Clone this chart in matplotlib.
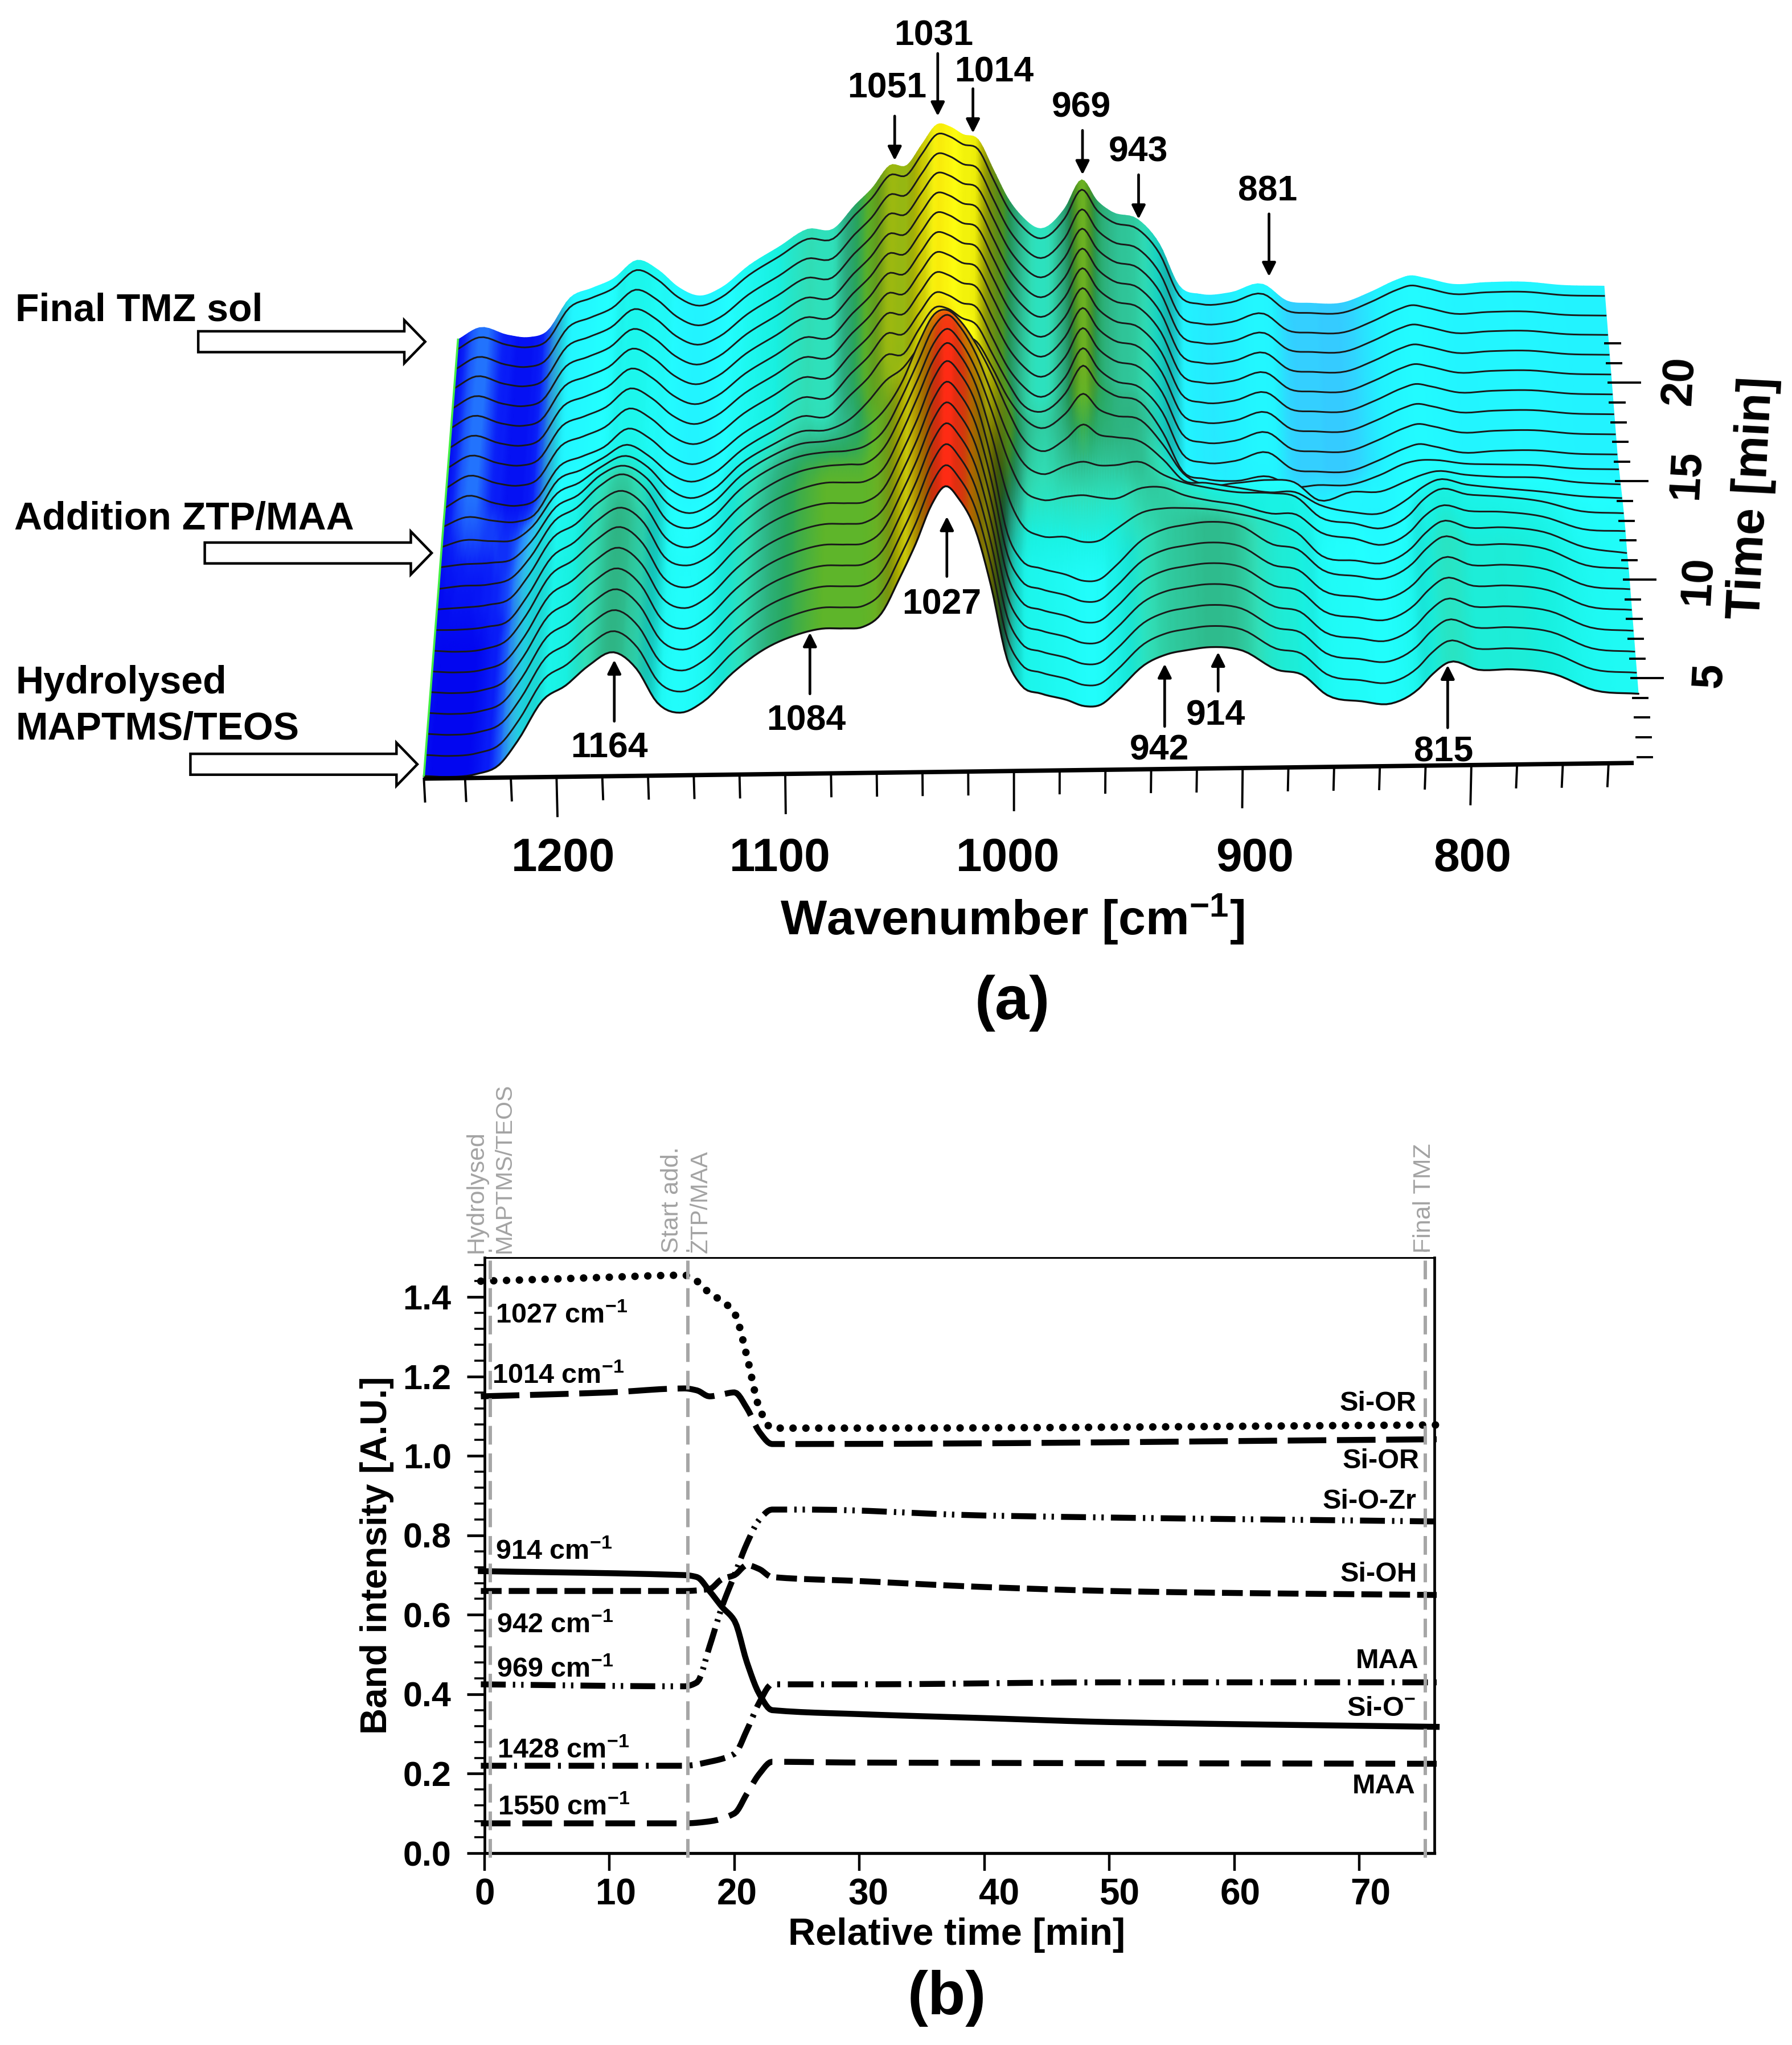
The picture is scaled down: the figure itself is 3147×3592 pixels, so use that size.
import matplotlib
matplotlib.use('Agg')
import matplotlib.pyplot as plt
import numpy as np
from matplotlib.colors import LinearSegmentedColormap
from matplotlib.patches import FancyArrow

plt.rcParams['font.family'] = ['Liberation Sans', 'DejaVu Sans']
plt.rcParams['font.weight'] = 'bold'
plt.rcParams['mathtext.fontset'] = 'custom'
plt.rcParams['mathtext.rm'] = 'Liberation Sans:bold'
plt.rcParams['mathtext.bf'] = 'Liberation Sans:bold'
plt.rcParams['mathtext.it'] = 'Liberation Sans:bold'

# ---- panel (a), spectra, heights in picture units above the row base
wavenumber = [1258,1248,1235,1225,1217,1206,1196,1186,1175,1165,1156,1146,1136,1123,1109,1096,1084,1074,1066,1058,1050,1043,1036,1030,1024,1017,1010,1003,997,988,977,969,962,955,943,933,924,914,900,885,874,863,848,835,823,817,810,797,782,764,746,727]

spec_early = [2,1,3,10,28,59,70,85,95,82,56,48,56,78,96,106,111,111,112,122,149,175,205,219,209,186,142,86,66,59,54,49,50,60,80,88,91,93,90,75,71,55,50,48,59,70,79,73,73,69,56,53]
spec_r7 = [2,2,4,9,27,57,68,84,94,82,56,49,56,78,96,106,111,111,112,122,149,176,204,217,207,184,145,100,78,68,67,63,64,72,85,88,88,87,83,76,68,50,46,44,55,66,75,70,70,66,54,49]
spec_r8 = [2,3,5,10,27,56,66,82,91,79,55,47,55,77,94,104,108,109,110,122,148,174,201,212,202,180,148,112,90,80,82,83,81,80,88,88,82,78,74,67,66,52,47,42,52,63,71,67,66,62,52,50]
spec_r9 = [2,4,5,10,25,53,63,79,88,76,53,46,53,75,91,100,103,104,108,120,146,172,198,207,197,176,146,115,95,84,90,93,90,90,92,82,76,72,68,67,64,48,43,39,49,60,68,64,62,58,50,48]
spec_r10 = [3,5,6,9,22,48,57,72,79,69,50,42,49,70,85,94,96,100,107,120,142,170,192,195,186,168,145,118,98,86,95,106,98,96,92,78,62,60,56,52,52,42,36,35,46,54,60,56,53,50,46,44]
spec_r11 = [3,8,7,8,18,43,51,63,71,62,46,38,44,64,78,88,89,97,110,126,136,152,168,170,160,155,135,112,98,88,99,114,102,97,93,74,52,43,44,46,44,30,36,36,44,48,51,48,46,45,41,39]
spec_r12 = [3,10,7,6,11,38,45,54,64,55,42,35,41,59,73,84,84,100,113,130,131,150,166,165,158,152,130,108,92,85,99,120,105,97,91,68,38,32,30,33,25,26,26,33,42,44,44,41,40,39,36,35]
spec_late = [2,11,5,3,7,33,40,47,61,53,40,33,39,56,70,83,83,101,114,131,131,147,162,160,154,150,127,104,91,81,96,118,102,93,87,68,36,29,30,36,23,21,21,29,38,41,39,34,35,35,32,31]

row_times = [0.7,1.77,2.84,3.9,4.96,6.01,7.06,8.11,9.16,10.2,11.23,12.26,13.29,14.31,15.33,16.35,17.36,18.37,19.37,20.38,21.36,22.36,22.86]
row_spectra = [spec_early]*7 + [spec_r7, spec_r8, spec_r9, spec_r10, spec_r11, spec_r12] + [spec_late]*10

wn_ticks = [1258] + list(range(1240, 730, -20))
wn_labels = ['1200', '1100', '1000', '900', '800']
wn_label_x = [432, 598, 773, 962, 1129]
time_ticks = list(range(1, 23))
time_labels = ['5', '10', '15', '20']
time_label_pos = [(1311, 518), (1302, 445), (1293, 364), (1288, 292)]

# label, text x, text y, arrow x, arrow start y, arrow end y
peak_labels = [
    ('1031', 716, 25, 719, 41, 89),
    ('1014', 762, 53, 746, 68, 102),
    ('1051', 680, 65, 686, 89, 123),
    ('969', 829, 80, 830, 100, 134),
    ('943', 873, 114, 873, 134, 168),
    ('881', 972, 144, 973, 164, 212),
    ('1027', 722, 461, 726, 442, 396),
    ('1164', 467, 571, 471, 553, 506),
    ('1084', 618, 550, 621, 532, 485),
    ('942', 889, 573, 893, 557, 509),
    ('914', 932, 546, 934, 530, 500),
    ('815', 1107, 574, 1110, 558, 510),
]

# ---- panel (b)
t_1027 = [-0.3,5,10,16,17,18,19,20,21,22,23,30,76.2]
y_1027 = [1.44,1.445,1.45,1.455,1.44,1.41,1.39,1.36,1.25,1.12,1.07,1.07,1.078]
t_1014 = [-0.3,10,16,17,18,19,20,21,22,23,25,76.2]
y_1014 = [1.15,1.16,1.17,1.165,1.15,1.155,1.16,1.12,1.06,1.03,1.03,1.042]
t_914 = [-0.3,16,17,18,19,20,21,22,23,30,40,50,76.2]
y_914 = [0.71,0.70,0.695,0.66,0.62,0.585,0.48,0.40,0.36,0.35,0.34,0.33,0.318]
t_942 = [-0.3,10,16,18,19,20,21,22,23,30,40,50,60,76.2]
y_942 = [0.66,0.66,0.66,0.665,0.69,0.70,0.725,0.715,0.695,0.685,0.67,0.66,0.655,0.65]
t_969 = [-0.3,16,17,18,19,20,21,22,23,26,40,76.2]
y_969 = [0.425,0.42,0.43,0.52,0.62,0.70,0.78,0.84,0.865,0.865,0.85,0.835]
t_1428 = [-0.3,10,16,18,20,21,22,23,30,50,76.2]
y_1428 = [0.22,0.22,0.22,0.23,0.25,0.31,0.38,0.425,0.425,0.43,0.43]
t_1550 = [-0.3,16,18,20,21,22,23,30,76.2]
y_1550 = [0.075,0.075,0.08,0.10,0.15,0.20,0.23,0.228,0.225]

left_labels = [('1027', 0.87, 1.352), ('1014', 0.58, 1.2), ('914', 0.87, 0.758), ('942', 0.95, 0.573), ('969', 0.95, 0.461), ('1428', 1.0, 0.258), ('1550', 1.05, 0.114)]
right_labels = [('Si-OR', 74.6, 1.131), ('Si-OR', 74.8, 0.987), ('Si-O-Zr', 74.6, 0.885), ('Si-OH', 74.65, 0.702), ('MAA', 74.75, 0.484), ('Si-O$^{-}$', 74.5, 0.363), ('MAA', 74.5, 0.168)]
event_t = [0.44, 16.27, 75.3]
event_labels = [(-0.64, 'Hydrolysed', 31), (1.6, 'MAPTMS/TEOS', 29.5), (15.0, 'Start add.', 31), (17.3, 'ZTP/MAA', 30), (75.2, 'Final TMZ', 31)]
xtick_pos = [0, 10, 20, 30, 40, 50, 60, 70]
xlabel_pos = [0, 10.5, 20.2, 30.7, 41.2, 50.8, 60.5, 70.9]


def project(wn, t, h):
    # picture units of the reference shrunk to 1374 wide, y downwards
    x0 = 325 + (1258 - wn) * 1.7536
    s = 1 - 0.00254 * (t - 0.7)
    return 790 + (x0 - 790) * s, 597 - (x0 - 325) * 0.01294 - 15.1 * (t - 0.7) - h


def smooth(w, h, n=6, mono=False):
    # hermite curve through the read points, only to draw them round
    w, h = np.asarray(w, float), np.asarray(h, float)
    m = np.gradient(h, w)
    if mono:
        # no overshoot, the time traces have long flat stretches
        sec = np.diff(h) / np.diff(w)
        m = np.zeros(len(h))
        m[0], m[-1] = sec[0], sec[-1]
        for i in range(1, len(h) - 1):
            if sec[i - 1] * sec[i] > 0:
                m[i] = 2 * sec[i - 1] * sec[i] / (sec[i - 1] + sec[i])
    u = np.arange(n) / n
    ww, hh = [], []
    for i in range(len(w) - 1):
        d = w[i + 1] - w[i]
        ww.append(w[i] + u * d)
        hh.append((2*u**3 - 3*u**2 + 1) * h[i] + (u**3 - 2*u**2 + u) * d * m[i]
                  + (-2*u**3 + 3*u**2) * h[i + 1] + (u**3 - u**2) * d * m[i + 1])
    return np.append(np.concatenate(ww), w[-1]), np.append(np.concatenate(hh), h[-1])


height_cmap = LinearSegmentedColormap.from_list('bands', [
    (0 / 220, '#0000ee'), (5 / 220, '#0a20f8'), (12 / 220, '#2a8cff'), (20 / 220, '#35ccff'),
    (30 / 220, '#22f2ff'), (45 / 220, '#22ffff'), (70 / 220, '#18f0e0'), (83 / 220, '#30dfb8'),
    (95 / 220, '#2eb585'), (103 / 220, '#28a860'), (111 / 220, '#5db52a'), (120 / 220, '#70b020'),
    (132 / 220, '#9cb810'), (145 / 220, '#d8d800'), (158 / 220, '#ffff10'), (175 / 220, '#e8c000'),
    (195 / 220, '#e88000'), (205 / 220, '#f04010'), (220 / 220, '#ff2a14')])

fig = plt.figure(figsize=(31.47, 35.92), dpi=100)
ax = fig.add_axes([0, 0, 1, 1])
ax.set_xlim(0, 1374)
ax.set_ylim(1568, 0)
ax.axis('off')

# surface, painted from the back row to the front row
rows = []
for t, spec in zip(row_times, row_spectra):
    w, h = smooth(wavenumber[::-1], spec[::-1])
    x, y = project(w, t, h)
    slope = np.abs(np.gradient(h, x))
    shade = 1 - 0.5 * np.clip((slope - 0.8) / 3, 0, 1)
    rows.append((x, y, height_cmap(h / 220)[:, :3] * shade[:, None]))

z = 2
for i in range(len(rows) - 2, -1, -1):
    x0, y0, c0 = rows[i]
    x1, y1, c1 = rows[i + 1]
    ax.pcolormesh(np.array([x0, x1]), np.array([y0, y1]), np.array([c0, c1]), shading='gouraud', zorder=z)
    z += 1
    if i + 1 < len(rows) - 1:
        ax.plot(x1, y1, color='#1a1a1a', lw=2.1, solid_capstyle='butt', zorder=z)
        z += 1
ax.plot(rows[0][0], rows[0][1], color='#101010', lw=2.4, zorder=z)

# green left edge
edge = np.array([project(wavenumber[0], t, s[0]) for t, s in zip(row_times, row_spectra)])
ax.plot(edge[:, 0], edge[:, 1], color='#44ee44', lw=2.6, zorder=z + 1)
z += 2

# axes of the surface
ex, ey = project(np.array([1258, 729]), 0.7, 0)
ax.plot(ex, ey, color='k', lw=5.5, solid_capstyle='butt', zorder=z)
for wn in wn_ticks:
    x, y = project(wn, 0.7, 0)
    ax.plot([x, x + 0.002 * (790 - x)], [y, y + (30 if wn % 100 == 0 else 17.5)], color='k', lw=2.8, zorder=z)
for t in time_ticks:
    x, y = project(727, t, 0)
    ax.plot([x, x + (24 if t % 5 == 0 else 11)], [y, y], color='k', lw=2.8, zorder=z)
for lab, x in zip(wn_labels, wn_label_x):
    ax.text(x, 658.5, lab, fontsize=59, ha='center', va='center')
for lab, (x, y) in zip(time_labels, time_label_pos):
    ax.text(x, y, lab, fontsize=56, rotation=87, ha='center', va='center')
ax.text(1344, 382, 'Time [min]', fontsize=61, rotation=87, ha='center', va='center')
ax.text(776, 705, 'Wavenumber [cm$^{-1}$]', fontsize=62, ha='center', va='center')
ax.text(776, 769, '(a)', fontsize=78, ha='center', va='center')
ax.text(726, 1532, '(b)', fontsize=78, ha='center', va='center')

# peak labels
for lab, tx, ty, ax_x, y0, y1 in peak_labels:
    ax.text(tx, ty + 2.5, lab, fontsize=45, ha='center', va='center', zorder=z)
    ax.annotate('', xy=(ax_x, y1), xytext=(ax_x, y0), zorder=z,
                arrowprops=dict(arrowstyle='-|>', color='k', lw=3.4, mutation_scale=36, shrinkA=0, shrinkB=0))

# stage labels with hollow arrows
ax.text(12, 238, 'Final TMZ sol', fontsize=49, va='center')
ax.text(11, 398, 'Addition ZTP/MAA', fontsize=49, va='center')
ax.text(12, 524, 'Hydrolysed', fontsize=49, va='center')
ax.text(12, 559, 'MAPTMS/TEOS', fontsize=49, va='center')
for x0, x1, y in [(152, 326, 262), (157, 331, 424), (146, 320, 586)]:
    ax.add_patch(FancyArrow(x0, y, x1 - x0, 0, width=16, head_width=33, head_length=16,
                            length_includes_head=True, facecolor='white', edgecolor='k', lw=3.2))

# ---- panel (b)
bx = fig.add_axes([851 / 3147, 1 - 3255 / 3592, (2518.6 - 851) / 3147, (3255 - 2208.5) / 3592])
bx.set_xlim(0, 76)
bx.set_ylim(0, 1.5)

lw = 7.5
bx.plot(*smooth(t_1027, y_1027, mono=True), color='k', lw=9.5, ls=(0, (0.01, 1.7)), dash_capstyle='round', clip_on=False)
bx.plot(*smooth(t_1014, y_1014, mono=True), color='k', lw=lw, ls=(0, (6.5, 1.8)), clip_on=False)
bx.plot(*smooth(t_914, y_914, mono=True), color='k', lw=lw, clip_on=False)
bx.plot(*smooth(t_942, y_942, mono=True), color='k', lw=lw, ls=(0, (3.5, 1.2)), clip_on=False)
bx.plot(*smooth(t_969, y_969, mono=True), color='k', lw=lw, ls=(0, (4.2, 1.2, 0.4, 1.0, 0.4, 1.2)), clip_on=False)
bx.plot(*smooth(t_1428, y_1428, mono=True), color='k', lw=lw, ls=(0, (4.3, 1.3, 0.5, 1.3)), clip_on=False)
bx.plot(*smooth(t_1550, y_1550, mono=True), color='k', lw=lw, ls=(0, (5, 2)), clip_on=False)

for t in event_t:
    bx.plot([t, t], [-0.012, 1.52], color='#a6a6a6', lw=4.3, ls=(0, (5.5, 2.6)), clip_on=False, zorder=5)

trans = bx.get_xaxis_transform()
for t, lab, size in event_labels:
    bx.text(t, 1.007, lab, transform=trans, rotation=90, ha='center', va='bottom', color='#a3a3a3',
            fontsize=size, fontweight='normal')

for lab, t, y in left_labels:
    bx.text(t, y, lab + ' cm$^{-1}$', fontsize=35, ha='left', va='center')
for lab, t, y in right_labels:
    bx.text(t, y, lab, fontsize=35, ha='right', va='center')

bx.set_xticks(xtick_pos)
bx.set_xticklabels([])
for v, t in zip(xtick_pos, xlabel_pos):
    bx.text(t, -0.105, str(v), fontsize=46, ha='center', va='center')
bx.set_yticks(np.arange(0, 1.41, 0.2))
bx.set_yticks(np.arange(0, 1.49, 0.04), minor=True)
bx.tick_params(axis='x', which='major', length=22, width=3.2)
bx.tick_params(axis='y', which='major', length=22, width=3.4, labelsize=44, pad=20)
bx.tick_params(axis='y', which='minor', length=13, width=2.6)
bx.set_yticklabels(['%.1f' % v for v in np.arange(0, 1.41, 0.2)])
for s in bx.spines.values():
    s.set_linewidth(2.2)
bx.spines['left'].set_linewidth(3.4)
bx.spines['bottom'].set_linewidth(3.8)
bx.spines['right'].set_linewidth(3.4)
bx.set_xlabel('Relative time [min]', fontsize=48, fontweight='bold', labelpad=56, x=0.497)
bx.set_ylabel('Band intensity [A.U.]', fontsize=46, fontweight='bold', labelpad=11)

fig.savefig('out.png', dpi=100)
